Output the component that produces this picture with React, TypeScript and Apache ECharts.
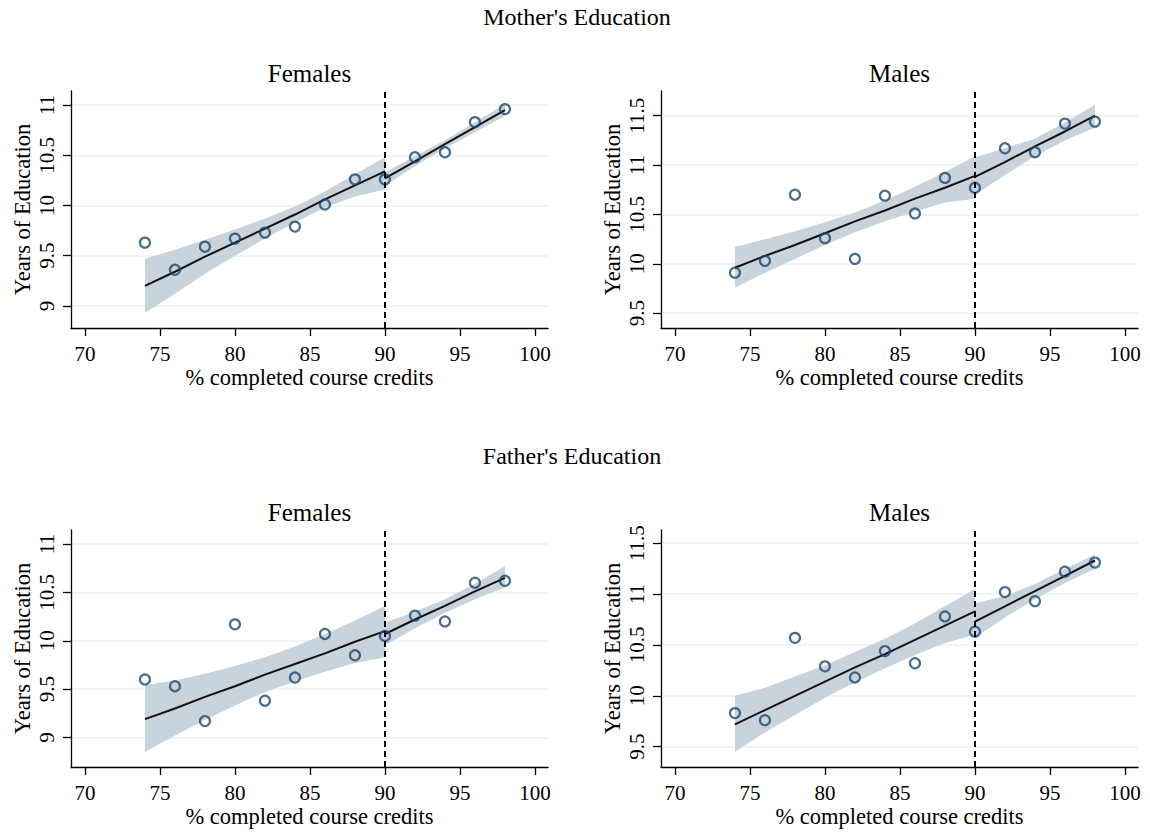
import React, { useEffect, useRef } from "react";
import * as echarts from "echarts";

// ---------- data ----------
const xTicks = [70, 75, 80, 85, 90, 95, 100];
const cutoff = 90;
const xPoints = [74, 76, 78, 80, 82, 84, 86, 88, 90, 92, 94, 96, 98];
const xLeft = [74, 76, 78, 80, 82, 84, 86, 88, 90];
const xRight = [90, 92, 94, 96, 98];

const yTicksFem = [9, 9.5, 10, 10.5, 11];
const yTicksMal = [9.5, 10, 10.5, 11, 11.5];

// Mother's Education - Females
const momFemY = [9.63, 9.36, 9.59, 9.67, 9.73, 9.79, 10.01, 10.26, 10.26, 10.48, 10.53, 10.83, 10.96];
const momFemFitL = [9.2, 9.34, 9.49, 9.63, 9.77, 9.91, 10.06, 10.2, 10.34];
const momFemUpL = [9.47, 9.56, 9.66, 9.76, 9.87, 9.99, 10.14, 10.31, 10.48];
const momFemLoL = [8.93, 9.12, 9.32, 9.5, 9.67, 9.83, 9.98, 10.09, 10.16];
const momFemFitR = [10.27, 10.44, 10.61, 10.78, 10.95];
const momFemUpR = [10.33, 10.49, 10.65, 10.83, 11.01];
const momFemLoR = [10.2, 10.39, 10.57, 10.73, 10.89];

// Mother's Education - Males
const momMalY = [9.91, 10.03, 10.7, 10.26, 10.05, 10.69, 10.51, 10.87, 10.77, 11.17, 11.13, 11.42, 11.44];
const momMalFitL = [9.96, 10.08, 10.19, 10.31, 10.43, 10.54, 10.66, 10.77, 10.89];
const momMalUpL = [10.17, 10.25, 10.33, 10.42, 10.52, 10.64, 10.78, 10.93, 11.09];
const momMalLoL = [9.76, 9.91, 10.05, 10.19, 10.32, 10.43, 10.53, 10.62, 10.66];
const momMalFitR = [10.88, 11.03, 11.19, 11.34, 11.5];
const momMalUpR = [11.08, 11.17, 11.27, 11.43, 11.61];
const momMalLoR = [10.7, 10.9, 11.09, 11.25, 11.38];

// Father's Education - Females
const dadFemY = [9.6, 9.53, 9.17, 10.17, 9.38, 9.62, 10.07, 9.85, 10.05, 10.26, 10.2, 10.6, 10.62];
const dadFemFitL = [9.19, 9.3, 9.42, 9.53, 9.65, 9.76, 9.87, 9.99, 10.1];
const dadFemUpL = [9.54, 9.59, 9.66, 9.74, 9.83, 9.94, 10.07, 10.21, 10.36];
const dadFemLoL = [8.85, 9.02, 9.18, 9.33, 9.47, 9.58, 9.68, 9.77, 9.83];
const dadFemFitR = [10.07, 10.22, 10.36, 10.51, 10.65];
const dadFemUpR = [10.19, 10.3, 10.43, 10.59, 10.77];
const dadFemLoR = [9.95, 10.13, 10.29, 10.43, 10.55];

// Father's Education - Males
const dadMalY = [9.83, 9.76, 10.57, 10.29, 10.18, 10.44, 10.32, 10.78, 10.63, 11.02, 10.93, 11.22, 11.31];
const dadMalFitL = [9.72, 9.86, 10.0, 10.14, 10.28, 10.41, 10.55, 10.69, 10.83];
const dadMalUpL = [10.0, 10.08, 10.19, 10.3, 10.43, 10.56, 10.71, 10.88, 11.05];
const dadMalLoL = [9.45, 9.64, 9.81, 9.98, 10.13, 10.27, 10.4, 10.52, 10.6];
const dadMalFitR = [10.73, 10.88, 11.03, 11.18, 11.33];
const dadMalUpR = [10.91, 10.98, 11.1, 11.25, 11.39];
const dadMalLoR = [10.57, 10.77, 10.95, 11.11, 11.25];

// ---------- style / layout ----------
const FONT = "Liberation Serif";
const NAVY = "#1a476f";
const BAND = "#c8d3dc";
const GRIDC = "#eaf2f3";
const GRID_W = 477;
const GRID_H = 237;

const panels = [
  { title: "Females", left: 71, top: 91, yMin: 8.78, yMax: 11.14, yTicks: yTicksFem, y: momFemY,
    fitL: momFemFitL, upL: momFemUpL, loL: momFemLoL, fitR: momFemFitR, upR: momFemUpR, loR: momFemLoR },
  { title: "Males", left: 661, top: 91, yMin: 9.35, yMax: 11.75, yTicks: yTicksMal, y: momMalY,
    fitL: momMalFitL, upL: momMalUpL, loL: momMalLoL, fitR: momMalFitR, upR: momMalUpR, loR: momMalLoR },
  { title: "Females", left: 71, top: 530, yMin: 8.695, yMax: 11.145, yTicks: yTicksFem, y: dadFemY,
    fitL: dadFemFitL, upL: dadFemUpL, loL: dadFemLoL, fitR: dadFemFitR, upR: dadFemUpR, loR: dadFemLoR },
  { title: "Males", left: 661, top: 530, yMin: 9.3, yMax: 11.63, yTicks: yTicksMal, y: dadMalY,
    fitL: dadMalFitL, upL: dadMalUpL, loL: dadMalLoL, fitR: dadMalFitR, upR: dadMalUpR, loR: dadMalLoR },
];

function bandSeries(gi: number, xs: number[], lo: number[], up: number[]) {
  return {
    type: "custom",
    xAxisIndex: gi,
    yAxisIndex: gi,
    silent: true,
    z: 1,
    data: xs.map((x, k) => [x, lo[k], up[k]]),
    encode: { x: 0, y: [1, 2] },
    renderItem: (params: any, api: any) => {
      if (params.dataIndex !== 0) return null;
      const pts: number[][] = [];
      for (let k = 0; k < xs.length; k++) pts.push(api.coord([xs[k], up[k]]));
      for (let k = xs.length - 1; k >= 0; k--) pts.push(api.coord([xs[k], lo[k]]));
      return { type: "polygon", shape: { points: pts }, style: { fill: BAND, stroke: null } };
    },
  };
}

function lineSeries(gi: number, xs: number[], ys: number[]) {
  return {
    type: "line",
    xAxisIndex: gi,
    yAxisIndex: gi,
    silent: true,
    z: 3,
    symbol: "none",
    data: xs.map((x, k) => [x, ys[k]]),
    lineStyle: { color: "#111", width: 2 },
  };
}

function buildOption() {
  const grid: any[] = [];
  const xAxis: any[] = [];
  const yAxis: any[] = [];
  const series: any[] = [];
  const graphic: any[] = [];

  panels.forEach((p, i) => {
    grid.push({ left: p.left, top: p.top, width: GRID_W, height: GRID_H, containLabel: false });
    xAxis.push({
      type: "value",
      gridIndex: i,
      min: 69.07,
      max: 100.87,
      name: "% completed course credits",
      nameLocation: "middle",
      nameGap: 38,
      nameTextStyle: { fontFamily: FONT, fontSize: 22.5, color: "#000" },
      axisLine: { show: true, onZero: false, lineStyle: { color: "#000", width: 1.3 } },
      axisTick: { show: true, length: 8, customValues: xTicks, lineStyle: { color: "#000", width: 1.3 } },
      axisLabel: { customValues: xTicks, margin: 15, fontFamily: FONT, fontSize: 21, color: "#000" },
      splitLine: { show: false },
    });
    yAxis.push({
      type: "value",
      gridIndex: i,
      min: p.yMin,
      max: p.yMax,
      name: "Years of Education",
      nameLocation: "middle",
      nameGap: 37,
      nameRotate: 90,
      nameTextStyle: { fontFamily: FONT, fontSize: 22.5, color: "#000" },
      axisLine: { show: true, onZero: false, lineStyle: { color: "#000", width: 1.3 } },
      axisTick: { show: true, length: 8, customValues: p.yTicks, lineStyle: { color: "#000", width: 1.3 } },
      axisLabel: { customValues: p.yTicks, rotate: 90, margin: 14, fontFamily: FONT, fontSize: 21, color: "#000" },
      splitLine: { show: true, lineStyle: { color: GRIDC, width: 1.5 } },
    });

    series.push(bandSeries(i, xLeft, p.loL, p.upL));
    series.push(bandSeries(i, xRight, p.loR, p.upR));
    series.push(lineSeries(i, xLeft, p.fitL));
    series.push(lineSeries(i, xRight, p.fitR));
    series.push({
      type: "scatter",
      xAxisIndex: i,
      yAxisIndex: i,
      z: 4,
      symbol: "circle",
      symbolSize: 10,
      data: xPoints.map((x, k) => [x, p.y[k]]),
      itemStyle: { color: "rgba(0,0,0,0)", borderColor: NAVY, borderWidth: 2.2 },
      markLine: {
        silent: true,
        symbol: ["none", "none"],
        label: { show: false },
        lineStyle: { color: "#000", width: 2, type: [6, 4] },
        data: [{ xAxis: cutoff }],
      },
    });

    graphic.push({
      type: "text",
      x: p.left + GRID_W / 2,
      y: p.top - 18,
      style: { text: p.title, fontFamily: FONT, fontSize: 25, fill: "#000", align: "center", verticalAlign: "middle" },
    });
  });

  graphic.push({
    type: "text",
    x: 577,
    y: 17,
    style: { text: "Mother's Education", fontFamily: FONT, fontSize: 24, fill: "#000", align: "center", verticalAlign: "middle" },
  });
  graphic.push({
    type: "text",
    x: 572,
    y: 456,
    style: { text: "Father's Education", fontFamily: FONT, fontSize: 24, fill: "#000", align: "center", verticalAlign: "middle" },
  });

  return {
    animation: false,
    backgroundColor: "#ffffff",
    grid,
    xAxis,
    yAxis,
    series,
    graphic,
  };
}

export default function App() {
  const ref = useRef<HTMLDivElement>(null);
  useEffect(() => {
    if (!ref.current) return;
    const chart = echarts.init(ref.current, undefined, { renderer: "svg" });
    chart.setOption(buildOption() as any);
    return () => chart.dispose();
  }, []);
  return (
    <div
      ref={ref}
      style={{ position: "absolute", left: 0, top: 0, width: 1150, height: 834, background: "#fff" }}
    />
  );
}
